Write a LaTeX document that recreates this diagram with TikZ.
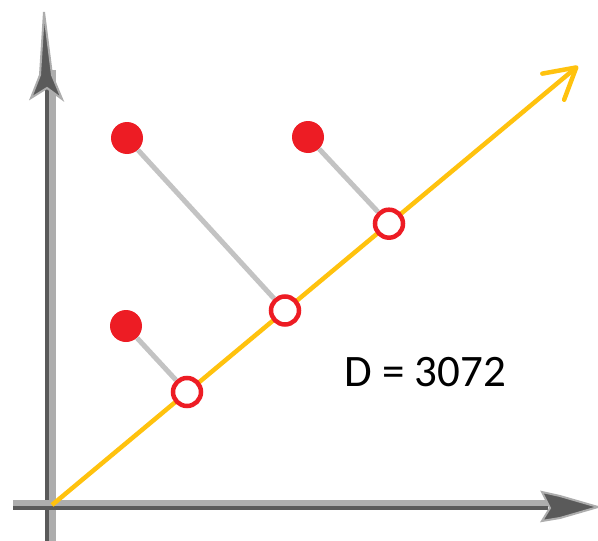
\documentclass[tikz,border=0pt]{standalone}
\usepackage{fontspec}
\setmainfont{Carlito}
\usetikzlibrary{arrows.meta}
\definecolor{dotred}{HTML}{ED1C24}
\definecolor{projgray}{HTML}{C3C3C3}
\definecolor{axisdark}{HTML}{5A5A5A}
\definecolor{axislight}{HTML}{ADADAD}
\definecolor{lineyellow}{HTML}{FFC20E}
\tikzset{
  datapt/.style={circle, fill=dotred, minimum size=32pt, inner sep=0pt},
  projpt/.style={circle, draw=dotred, line width=4.5pt, fill=white, minimum size=28pt, inner sep=0pt},
  projline/.style={projgray, line width=5pt},
  axisshaft/.style={axislight, line width=9pt},
  axiscore/.style={axisdark, line width=4pt},
  axishead/.style={fill=axisdark, draw=axislight, line width=2pt},
}
\begin{document}
\begin{tikzpicture}[x=1pt, y=-1pt]
\useasboundingbox (0,0) rectangle (598,541);
% axes
\coordinate (yb) at (47,541);
\coordinate (yt) at (47,70);
\coordinate (xl) at (13,508);
\coordinate (xr) at (548,508);
\draw[axisshaft] ([xshift=4pt]yb) -- ([xshift=4pt]yt);
\draw[axiscore] (yb) -- (yt);
\draw[axisshaft] ([yshift=4pt]xl) -- ([yshift=4pt]xr);
\draw[axiscore] (xl) -- (xr);
\fill[axishead] (44,12) -- (52,75) -- (62,99) -- (47,88) -- (31,98) -- (40,75) -- cycle;
\fill[axishead] (598,507) -- (560,496) -- (542,492) -- (550,508) -- (542,521) -- (560,518) -- cycle;
% yellow line
\coordinate (o) at (52,505);
\coordinate (tip) at (578,66);
\draw[lineyellow, line width=4.5pt, -{Straight Barb[length=30pt, width=34pt, round]}] (o) -- (tip);
% points
\node[datapt] (f1) at (127,138) {};
\node[datapt] (f2) at (308,137) {};
\node[datapt] (f3) at (126,326) {};
\node[projpt] (p1) at (285,310.5) {};
\node[projpt] (p2) at (389,223.7) {};
\node[projpt] (p3) at (187,392) {};
\draw[projline] (f1) -- (p1);
\draw[projline] (f2) -- (p2);
\draw[projline] (f3) -- (p3);
\node[font=\fontsize{45}{50}\selectfont] (d) at (425,372) {D = 3072};
\end{tikzpicture}
\end{document}
